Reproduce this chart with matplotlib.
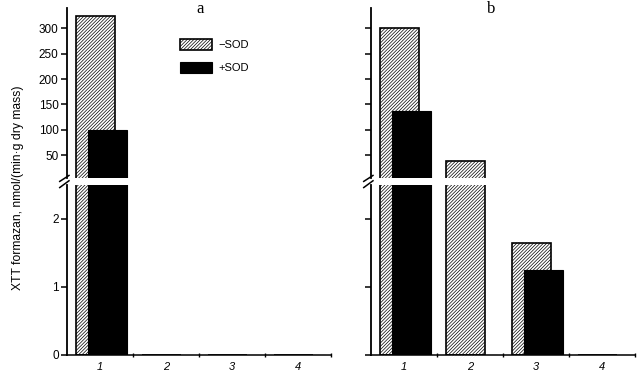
import numpy as np
import matplotlib
matplotlib.use('Agg')
import matplotlib.pyplot as plt

plt.rcParams['font.family'] = ['Liberation Sans', 'DejaVu Sans']
plt.rcParams['hatch.linewidth'] = 0.5

# data
groups = ['1', '2', '3', '4']
a_minus_sod = [325, 0, 0, 0]
a_plus_sod = [100, 0, 0, 0]
b_minus_sod = [300, 39, 1.65, 0]
b_plus_sod = [137, 0, 1.25, 0]
upper_ticks = [50, 100, 150, 200, 250, 300]
lower_ticks = [0, 1, 2]

x = np.arange(1, len(groups) + 1)
w = 0.59

fig = plt.figure(figsize=(6.41, 3.79), dpi=100)

lefts = [67 / 641, 371 / 641]
width = 264 / 641
up_box = (1 - 178 / 379, 170 / 379)
lo_box = (1 - 354.7 / 379, 169.7 / 379)


def draw_panel(x0, minus, plus, labels, title, title_x):
    ax_u = fig.add_axes([x0, up_box[0], width, up_box[1]])
    ax_l = fig.add_axes([x0, lo_box[0], width, lo_box[1]])
    for ax in (ax_u, ax_l):
        ax.bar(x - 0.36, minus, w, align='edge', color='white', edgecolor='black',
               hatch='//////////', linewidth=1.2, label='\u2212SOD')
        ax.bar(x - 0.18, plus, w, align='edge', color='black', edgecolor='black',
               linewidth=0.8, label='+SOD')
        ax.set_xlim(0.5, 4.5)
        ax.spines['top'].set_visible(False)
        ax.spines['right'].set_visible(False)
        ax.spines['left'].set_linewidth(1.3)
        ax.tick_params(axis='y', direction='out', length=4, width=1.1, pad=2, labelsize=8.5)
    ax_u.set_ylim(5, 340)
    ax_u.set_yticks(upper_ticks)
    ax_u.spines['bottom'].set_visible(False)
    ax_u.set_xticks([])
    ax_l.set_ylim(0, 2.5)
    ax_l.set_yticks(lower_ticks)
    ax_l.spines['bottom'].set_linewidth(1.1)
    ax_l.set_xticks(x)
    ax_l.set_xticklabels(groups, fontstyle='italic', fontsize=8)
    ax_l.set_xticks([1.5, 2.5, 3.5, 4.5], minor=True)
    ax_l.tick_params(axis='x', which='major', length=0, pad=5)
    ax_l.tick_params(axis='x', which='minor', length=2.5, width=1, direction='inout')
    if not labels:
        ax_u.set_yticklabels([])
        ax_l.set_yticklabels([])
    # break marks on the left spine
    d = 0.025
    kw = dict(color='black', lw=1.1, clip_on=False)
    ax_u.plot([-d * 1.1, d * 0.3], [-0.005 - 0.015, 0.015], transform=ax_u.transAxes, **kw)
    ax_l.plot([-d * 1.1, d * 0.3], [1 - 0.015, 1 + 0.025], transform=ax_l.transAxes, **kw)
    fig.text(title_x, 0.975, title, family=['Liberation Serif', 'DejaVu Serif'],
             fontsize=12, ha='center', va='center')
    return ax_u, ax_l


ax_au, ax_al = draw_panel(lefts[0], a_minus_sod, a_plus_sod, True, 'a', 200 / 641)
draw_panel(lefts[1], b_minus_sod, b_plus_sod, False, 'b', 491 / 641)

ax_au.legend(loc='upper left', bbox_to_anchor=(180 / 641, 1 - 39 / 379),
             bbox_transform=fig.transFigure, frameon=False, fontsize=8,
             handlelength=2.9, handleheight=1.2, handletextpad=0.6,
             labelspacing=1.0, borderpad=0, borderaxespad=0)

fig.text(18 / 641, 1 - 188 / 379, 'XTT formazan, nmol/(min\u00b7g dry mass)',
         rotation=90, ha='center', va='center', fontsize=8.7)

plt.savefig('out.png', dpi=100)
